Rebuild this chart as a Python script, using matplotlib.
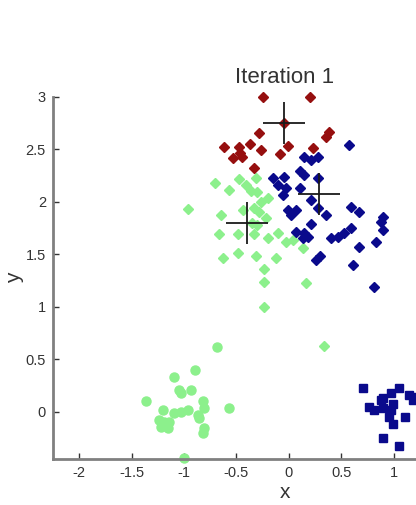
import numpy as np
import matplotlib
matplotlib.use('Agg')
import matplotlib.pyplot as plt

# cluster 1 (dark red diamonds)
red_x = [-0.25, 0.20, -0.05, 0.38, 0.35, -0.29, -0.62, -0.48, -0.37, -0.27, -0.53, -0.45, -0.01, -0.09, 0.23, -0.33, -0.47]
red_y = [3.00, 3.00, 2.75, 2.67, 2.62, 2.66, 2.52, 2.52, 2.55, 2.49, 2.42, 2.43, 2.53, 2.46, 2.51, 2.32, 2.47]

# cluster 2 (navy diamonds)
blue_x = [0.57, 0.14, 0.21, 0.28, 0.11, 0.14, 0.28, -0.15, -0.05, -0.10, -0.03, -0.06, 0.11, 0.21, 0.28,
          -0.01, 0.07, 0.02, 0.35, 0.59, 0.67, 0.90, 0.88, 0.90, 0.21, 0.07, 0.14, 0.18, 0.13, 0.40,
          0.47, 0.52, 0.59, 0.67, 0.83, 0.30, 0.26, 0.61, 0.81]
blue_y = [2.54, 2.43, 2.40, 2.43, 2.29, 2.26, 2.23, 2.23, 2.24, 2.16, 2.13, 2.07, 2.13, 2.02, 1.94,
          1.92, 1.92, 1.88, 1.88, 1.95, 1.90, 1.86, 1.81, 1.73, 1.79, 1.71, 1.70, 1.67, 1.66, 1.66,
          1.67, 1.70, 1.75, 1.57, 1.62, 1.48, 1.45, 1.40, 1.19]

# cluster 3 (light green diamonds)
green_x = [-0.96, -0.70, -0.57, -0.41, -0.31, -0.36, -0.30, -0.27, -0.20, -0.33, -0.29, -0.65, -0.44, -0.22,
           -0.67, -0.49, -0.33, -0.20, -0.10, -0.03, 0.04, 0.13, -0.63, -0.49, -0.31, -0.12, -0.24, -0.24,
           0.16, -0.24, 0.33, -0.35, -0.30, -0.48]
green_y = [1.93, 2.18, 2.11, 2.16, 2.23, 2.10, 2.09, 2.00, 2.04, 1.94, 1.90, 1.88, 1.92, 1.85,
           1.69, 1.69, 1.69, 1.66, 1.70, 1.62, 1.64, 1.56, 1.47, 1.51, 1.48, 1.47, 1.36, 1.24,
           1.23, 1.00, 0.63, 1.80, 1.78, 2.22]

# light green circles (lower left blob)
circ_x = [-0.69, -0.90, -1.10, -1.05, -1.03, -0.93, -1.36, -1.20, -0.82, -0.81, -0.57, -1.10, -1.03, -0.96,
          -0.87, -0.86, -1.24, -1.19, -1.14, -1.22, -1.15, -0.81, -0.82, -1.00]
circ_y = [0.62, 0.40, 0.33, 0.21, 0.18, 0.21, 0.10, 0.02, 0.10, 0.04, 0.04, -0.01, 0.00, 0.02,
          -0.03, -0.06, -0.08, -0.10, -0.10, -0.14, -0.15, -0.15, -0.20, -0.44]

# navy squares (lower right blob)
sq_x = [0.71, 0.88, 0.97, 1.05, 1.14, 1.18, 0.76, 0.81, 0.90, 0.97, 0.99, 1.11, 0.99, 0.90, 1.05, 0.95, 0.90, 1.22]
sq_y = [0.23, 0.11, 0.18, 0.23, 0.16, 0.11, 0.05, 0.02, 0.04, 0.02, 0.07, -0.05, -0.12, -0.25, -0.33, -0.05, 0.13, 0.14]

# centroids
cent_x = [-0.05, 0.29, -0.40]
cent_y = [2.75, 2.08, 1.80]

x_ticks = [-2, -1.5, -1, -0.5, 0, 0.5, 1]
y_ticks = [0, 0.5, 1, 1.5, 2, 2.5, 3]

dark_red = '#960f0f'
navy = '#0a0a8c'
light_green = '#8cf08c'

plt.rcParams['font.family'] = ['Liberation Sans', 'DejaVu Sans']

fig = plt.figure(figsize=(4.16, 5.05), dpi=100)
# axes runs past the right edge of the figure, like the cropped original
ax = fig.add_axes([0.127, 0.091, 1.115, 0.717])

ax.plot(circ_x, circ_y, 'o', color=light_green, ms=6.5, mec=light_green, clip_on=False)
ax.plot(green_x, green_y, 'D', color=light_green, ms=5, mec=light_green, clip_on=False)
ax.plot(red_x, red_y, 'D', color=dark_red, ms=5, mec=dark_red, clip_on=False)
ax.plot(blue_x, blue_y, 'D', color=navy, ms=5, mec=navy, clip_on=False)
ax.plot(sq_x, sq_y, 's', color=navy, ms=5.5, mec=navy, clip_on=False)
ax.plot(cent_x, cent_y, '+', color='#1a1a1a', ms=30, mew=1.3, clip_on=False, zorder=5)

ax.set_xlim(-2.25, 2.17)
ax.set_ylim(-0.45, 3.0)
ax.set_xticks(x_ticks)
ax.set_xticklabels([f'{t:g}' for t in x_ticks])
ax.set_yticks(y_ticks)
ax.set_yticklabels([f'{t:g}' for t in y_ticks])

for side in ['top', 'right']:
    ax.spines[side].set_visible(False)
for side in ['left', 'bottom']:
    ax.spines[side].set_color('#808080')
    ax.spines[side].set_linewidth(2)

ax.tick_params(direction='in', length=4, width=1, color='#333333', labelsize=10.5,
               labelcolor='#333333', pad=5)

ax.set_xlabel('x', fontsize=15, color='#333333', labelpad=2)
ax.set_ylabel('y', fontsize=15, color='#333333', labelpad=1)
ax.set_title('Iteration 1', fontsize=16, color='#333333', pad=10)

fig.savefig('out.png', dpi=100)
